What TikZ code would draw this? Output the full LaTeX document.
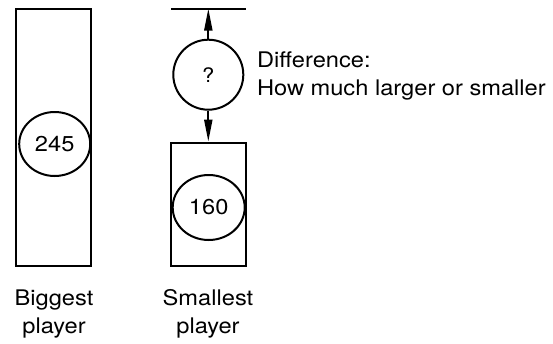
\documentclass[tikz,border=0pt]{standalone}
\usepackage{fontspec}
\setmainfont{TeX Gyre Heros}
\usepackage{graphicx}
\usetikzlibrary{arrows.meta}
\newcommand{\widetxt}[1]{\scalebox{1.1}[1]{#1}}
\newcommand{\twolines}[2]{\widetxt{\begin{tabular}[t]{@{}#1@{}}#2\end{tabular}}}

\begin{document}
\begin{tikzpicture}[x=1pt, y=-1pt, line width=2pt, >={Triangle[length=22pt,width=8pt]},
  font=\fontsize{21.5}{28}\selectfont,
  box/.style={draw, rectangle, inner sep=0pt, minimum width=75pt},
  lbl/.style={inner sep=0pt}]
\useasboundingbox (0,0) rectangle (553,343);

% biggest player
\node[box, minimum height=256.5pt] (bigbox) at (53.8,137.7) {};
\node[lbl] (bignum) at (54.7,144) {\widetxt{245}};
\draw (bignum.center) ellipse [x radius=35.5pt, y radius=32pt];

% smallest player
\node[box, minimum height=123.3pt] (smallbox) at (208.5,204.3) {};
\node[lbl] (smallnum) at (208.7,207.5) {\widetxt{160}};
\draw (smallnum.center) ellipse [x radius=36pt, y radius=32.5pt];

% difference between the two
\node[draw, circle, inner sep=0pt, minimum size=70pt] (diff) at (208.3,74.7) {\widetxt{\fontsize{20}{20}\selectfont ?}};
\coordinate (topL) at (171,8.5);
\coordinate (topR) at (246,8.5);
\draw (topL) -- (topR);
\draw[->] (diff.north) -- (diff.north |- topL);
\draw[->] (diff.south) -- (diff.south |- smallbox.north);
\node[lbl, anchor=base west] (difftxt) at (256,67) {\twolines{l}{Difference:\\How much larger or smaller}};

% names
\node[lbl, anchor=base] (bigname) at (54,305) {\twolines{c}{Biggest\\player}};
\node[lbl, anchor=base] (smallname) at (208,305) {\twolines{c}{Smallest\\player}};
\end{tikzpicture}
\end{document}
